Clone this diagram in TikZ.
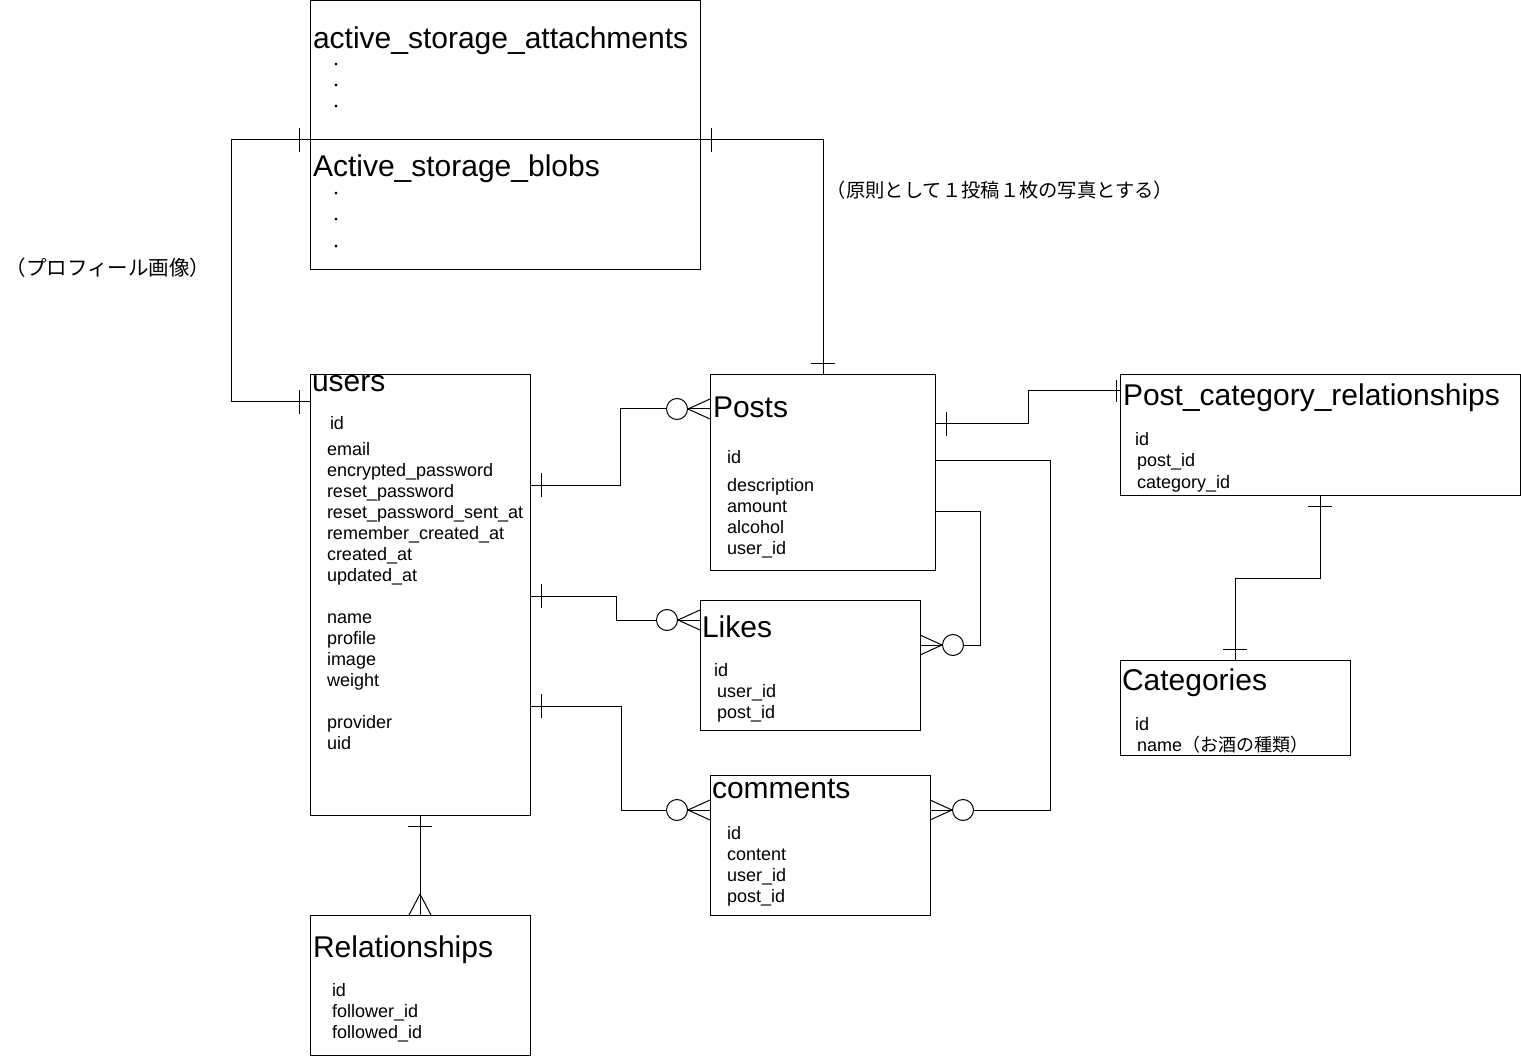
\documentclass[tikz,border=0pt]{standalone}
\usepackage{fontspec}
\setmainfont{Liberation Sans}
\newfontfamily\jpfont{Noto Sans CJK JP}
\usetikzlibrary{calc}
\tikzset{
  tbl/.style={draw, anchor=north west},
  ttl/.style={anchor=base west, font=\fontsize{30}{34}\selectfont},
  fld/.style={anchor=base west, font=\fontsize{18}{21}\selectfont},
  note/.style={anchor=center, font=\fontsize{19.3}{22}\selectfont\jpfont},
  dotmark/.style={anchor=center, font=\fontsize{13}{15}\selectfont\jpfont},
  conn/.style={draw},
  pics/onebar/.style={code={\draw (-11,-12) -- (-11,12);}},
  pics/zeromany/.style={code={
    \draw (-22,0) -- (0,-10) (-22,0) -- (0,10);
    \draw[fill=white] (-33,0) circle[radius=10.5pt];}},
  pics/manyfoot/.style={code={\draw (-21,0) -- (0,-11) (-21,0) -- (0,11);}}
}
\begin{document}
\begin{tikzpicture}[x=1pt, y=-1pt, line width=1pt,
  every node/.style={inner sep=0pt, outer sep=0pt}]
\useasboundingbox[fill=white] (0,0) rectangle (1521,1056);

% tables
\node[tbl, minimum width=390, minimum height=139] (att) at (310,1) {};
\node[tbl, minimum width=390, minimum height=130] (blobs) at (310,140) {};
\node[tbl, minimum width=220, minimum height=440] (users) at (310,375) {};
\node[tbl, minimum width=225, minimum height=195] (posts) at (710,375) {};
\node[tbl, minimum width=400, minimum height=120] (pcr) at (1120,375) {};
\node[tbl, minimum width=220, minimum height=130] (likes) at (700,600) {};
\node[tbl, minimum width=230, minimum height=95] (cats) at (1120,660) {};
\node[tbl, minimum width=220, minimum height=140] (comm) at (710,775) {};
\node[tbl, minimum width=220, minimum height=140] (rel) at (310,915) {};

% table titles
\node[ttl] (attT) at (313,49) {active\_storage\_attachments};
\node[ttl] (blobsT) at (313,177) {Active\_storage\_blobs};
\node[ttl] (usersT) at (312,392) {users};
\node[ttl] (postsT) at (713,418) {Posts};
\node[ttl] (pcrT) at (1123,406) {Post\_category\_relationships};
\node[ttl] (likesT) at (702,637) {Likes};
\node[ttl] (commT) at (712,798) {comments};
\node[ttl] (catsT) at (1122,690) {Categories};
\node[ttl] (relT) at (313,957) {Relationships};

% elided columns
\foreach \y [count=\i] in {66,87,108} \node[dotmark] (attD\i) at (336,\y) {・};
\foreach \y [count=\i] in {195,221,248} \node[dotmark] (blobsD\i) at (336,\y) {・};

% columns
\node[fld] (uF0) at (330,430) {id};
\foreach \t/\y [count=\i] in {email/455, encrypted\_password/476, reset\_password/497,
  reset\_password\_sent\_at/518, remember\_created\_at/539, created\_at/560,
  updated\_at/581, name/623, profile/644, image/665, weight/686, provider/728, uid/749}
  \node[fld] (uF\i) at (327,\y) {\t};
\foreach \t/\y [count=\i] in {id/464, description/491, amount/512, alcohol/533, user\_id/554}
  \node[fld] (pF\i) at (727,\y) {\t};
\node[fld] (pcrF0) at (1135,446) {id};
\node[fld] (pcrF1) at (1137,467) {post\_id};
\node[fld] (pcrF2) at (1137,488) {category\_id};
\node[fld] (lF0) at (714,676) {id};
\node[fld] (lF1) at (717,697) {user\_id};
\node[fld] (lF2) at (717,718) {post\_id};
\node[fld] (cF0) at (1135,730) {id};
\node[fld] (cF1) at (1137,751) {name{\jpfont （お酒の種類）}};
\foreach \t/\y [count=\i] in {id/839, content/860, user\_id/881, post\_id/902}
  \node[fld] (mF\i) at (727,\y) {\t};
\node[fld] (rF0) at (332,996) {id};
\node[fld] (rF1) at (332,1017) {follower\_id};
\node[fld] (rF2) at (332,1038) {followed\_id};

% notes
\node[note, font=\fontsize{20.5}{23}\selectfont\jpfont] (noteL) at (108,268) {（プロフィール画像）};
\node[note] (noteR) at (1000,190) {（原則として１投稿１枚の写真とする）};

% relations
\draw[conn] ($(users.north east)+(0,110)$) -- ++(90,0) |- ($(posts.north west)+(0,34)$);
\draw[conn] ($(users.north east)+(0,221)$) -- ++(86,0) -- ++(0,24) -- ($(likes.north west)+(0,20)$);
\draw[conn] ($(users.north east)+(0,331)$) -- ++(91,0) |- ($(comm.north west)+(0,35)$);
\draw[conn] ($(posts.north east)+(0,136)$) -- ++(45,0) |- ($(likes.north east)+(0,45)$);
\draw[conn] ($(posts.north east)+(0,85)$) -- ++(115,0) |- ($(comm.north east)+(0,35)$);
\draw[conn] ($(posts.north east)+(0,49)$) -- ++(93,0) |- ($(pcr.north west)+(0,16)$);
\draw[conn] ($(pcr.south west)+(200,0)$) -- ++(0,83) -| ($(cats.north west)+(115,0)$);
\draw[conn] ($(users.south west)+(110,0)$) -- ($(rel.north west)+(110,0)$);
\draw[conn] ($(users.north west)+(0,27)$) -- ++(-79,0) |- (blobs.north west);
\draw[conn] (blobs.north east) -- ++(123,0) -| ($(posts.north west)+(113,0)$);

% cardinality marks
\pic[rotate=180] at ($(users.north east)+(0,110)$) {onebar};
\pic[rotate=180] at ($(users.north east)+(0,221)$) {onebar};
\pic[rotate=180] at ($(users.north east)+(0,331)$) {onebar};
\pic at ($(posts.north west)+(0,34)$) {zeromany};
\pic at ($(likes.north west)+(0,20)$) {zeromany};
\pic at ($(comm.north west)+(0,35)$) {zeromany};
\pic[rotate=180] at ($(likes.north east)+(0,45)$) {zeromany};
\pic[rotate=180] at ($(comm.north east)+(0,35)$) {zeromany};
\pic[rotate=180] at ($(posts.north east)+(0,49)$) {onebar};
\draw ($(pcr.north west)+(-4,5)$) -- ++(0,22);
\pic[rotate=90] at ($(pcr.south west)+(200,0)$) {onebar};
\pic[rotate=-90] at ($(cats.north west)+(115,0)$) {onebar};
\pic[rotate=90] at ($(users.south west)+(110,0)$) {onebar};
\pic[rotate=-90] at ($(rel.north west)+(110,0)$) {manyfoot};
\pic at ($(users.north west)+(0,27)$) {onebar};
\pic at (blobs.north west) {onebar};
\pic[rotate=180] at (blobs.north east) {onebar};
\pic[rotate=-90] at ($(posts.north west)+(113,0)$) {onebar};
\end{tikzpicture}
\end{document}
